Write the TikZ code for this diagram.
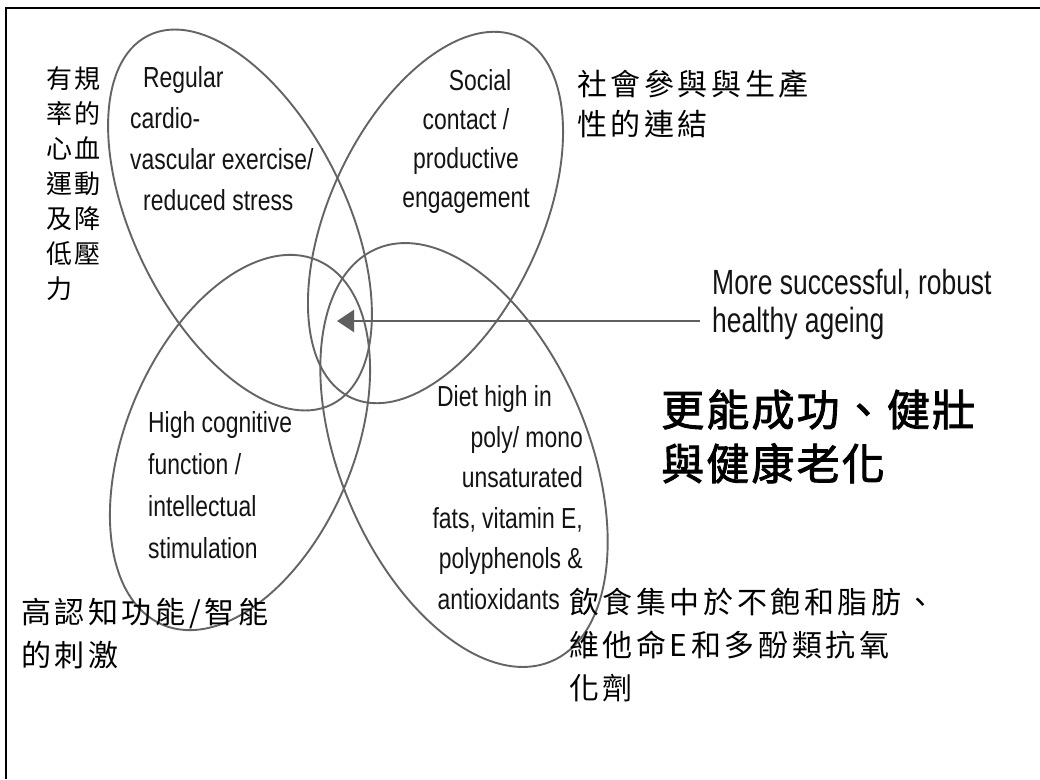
\documentclass[tikz,border=0pt]{standalone}
\usepackage{fontspec}
\usetikzlibrary{arrows.meta}
\newfontfamily\lblfont[FakeStretch=0.79]{Liberation Sans}
\newfontfamily\lblfontwide[FakeStretch=0.756]{Liberation Sans}
\newfontfamily\cjkA[LetterSpace=8]{Noto Sans CJK TC}
\newfontfamily\cjkB[LetterSpace=12]{Noto Sans CJK TC}
\newfontfamily\cjkBig[LetterSpace=5,FakeBold=2]{Noto Sans CJK TC}
\definecolor{petal}{RGB}{100,100,100}
\definecolor{lbltext}{RGB}{20,20,20}
\definecolor{arrowgray}{RGB}{95,95,95}
\begin{document}
\begin{tikzpicture}[x=1pt,y=1pt,
  petalline/.style={draw=petal,line width=1.9pt},
  lbl/.style={inner sep=0pt,text=lbltext},
  cn/.style={inner sep=0pt,text=black},
  pointer/.style={draw=arrowgray,line width=2.6pt,-{Triangle[length=17pt,width=22pt]}}
]
\useasboundingbox (0,0) rectangle (1040,-779);
\fill[white] (0,0) rectangle (1040,-779);
\draw[line width=2.2pt] (6,-779) -- (6,-8) -- (1040,-8);

% four petals
\draw[petalline, rotate around={-63.6:(240,-220)}] (240,-220) ellipse [x radius=206, y radius=106];
\draw[petalline, rotate around={64.9:(435.5,-217.5)}] (435.5,-217.5) ellipse [x radius=199, y radius=105.6];
\draw[petalline, rotate around={67:(240,-442.5)}] (240,-442.5) ellipse [x radius=198, y radius=113.6];
\draw[petalline, rotate around={-67.1:(464,-455)}] (464,-455) ellipse [x radius=224, y radius=124];

% English labels
\node[lbl, anchor=north west, align=left, font=\lblfont\fontsize{29}{41}\selectfont] (cardio) at (130,-65.8)
  {\hspace*{13pt}Regular\\cardio-\\vascular exercise/\\\hspace*{13pt}reduced stress};
\node[lbl, anchor=north, align=center, font=\lblfont\fontsize{29}{39}\selectfont] (social) at (466,-68.8)
  {\hspace*{28pt}Social\\contact /\\productive\\engagement};
\node[lbl, anchor=north west, align=left, font=\lblfont\fontsize{29}{42}\selectfont] (cognitive) at (148,-410.8)
  {High cognitive\\function /\\intellectual\\stimulation};
\node[lbl, anchor=north east, align=right, font=\lblfont\fontsize{29}{40.6}\selectfont] (diet) at (583,-385.3)
  {Diet high in\hspace*{31pt}\\poly/ mono\\unsaturated\\fats, vitamin E,\\polyphenols \&\hspace*{13pt}\\antioxidants\hspace*{23pt}};
\node[lbl, anchor=north west, align=left, font=\lblfontwide\fontsize{35}{38}\selectfont] (outcome) at (712,-268.5)
  {More successful, robust\\healthy ageing};

% arrow
\coordinate (hub) at (337,-321);
\coordinate (arrowstart) at (700,-321);
\draw[pointer] (arrowstart) -- (hub);

% Chinese labels
\node[cn, anchor=north west, align=left, font=\cjkA\fontsize{26}{35}\selectfont] (cnexercise) at (46,-66)
  {有規\\率的\\心血\\運動\\及降\\低壓\\力};
\node[cn, anchor=north west, align=left, font=\cjkB\fontsize{30}{40}\selectfont] (cnsocial) at (577,-70)
  {社會參與與生產\\性的連結};
\node[cn, anchor=north west, align=left, font=\cjkB\fontsize{30}{43}\selectfont] (cncognitive) at (21,-598)
  {高認知功能/智能\\的刺激};
\node[cn, anchor=north west, align=left, font=\cjkB\fontsize{30}{43}\selectfont] (cndiet) at (569,-588)
  {飲食集中於不飽和脂肪、\\維他命E和多酚類抗氧\\化劑};
\node[cn, anchor=north west, align=left, font=\cjkBig\fontsize{43}{54}\selectfont] (cnoutcome) at (661,-389.5)
  {更能成功、健壯\\與健康老化};
\end{tikzpicture}
\end{document}
